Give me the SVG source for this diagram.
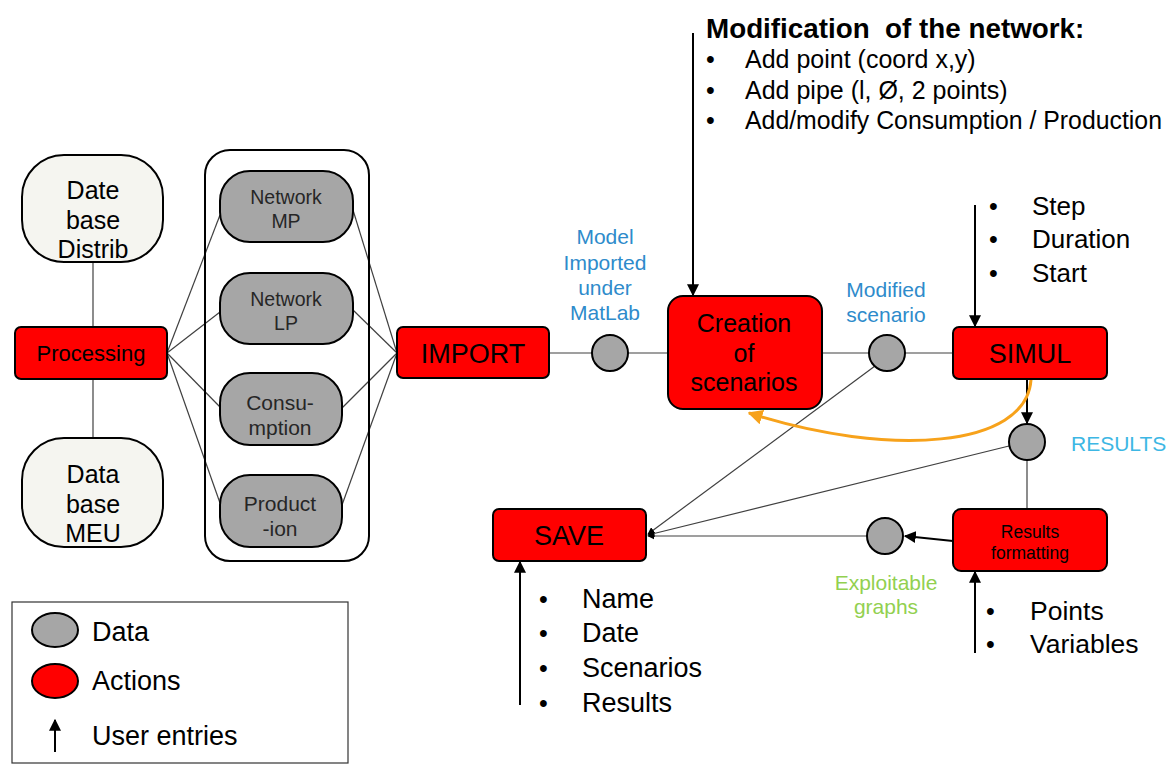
<svg xmlns="http://www.w3.org/2000/svg" width="1176" height="766" viewBox="0 0 1176 766">
  <style>
    text { font-family: "Liberation Sans", Arial, sans-serif; fill: #000; }
    .action { fill: #ff0000; stroke: #000; stroke-width: 2; }
    .data { fill: #a6a6a6; stroke: #000; stroke-width: 2; }
    .base { fill: #f5f5f0; stroke: #000; stroke-width: 2; }
    .link { stroke: #404040; stroke-width: 1.2; fill: none; }
    .entry { stroke: #000; stroke-width: 2; fill: none; }
    .c { text-anchor: middle; }
    .big { font-size: 27px; }
    .db { font-size: 25px; }
    .inner { fill: #262626; }
    .blue { fill: #2e8bcb; font-size: 21px; }
    .bul { font-size: 25px; }
  </style>
  <defs>
    <marker id="arr" viewBox="0 0 10 10" refX="9" refY="5" markerWidth="6" markerHeight="6" orient="auto">
      <path d="M0,0 L10,5 L0,10 z" fill="#000"/>
    </marker>
    <marker id="arrO" viewBox="0 0 10 10" refX="9" refY="5" markerWidth="5" markerHeight="5" orient="auto">
      <path d="M0,0 L10,5 L0,10 z" fill="#f7a21b"/>
    </marker>
  </defs>

  <!-- connectors -->
  <g id="connectors">
    <line class="link" x1="93" y1="262" x2="93" y2="327"/>
    <line class="link" x1="93" y1="379" x2="93" y2="438"/>
    <line class="link" x1="167" y1="353" x2="220" y2="215"/>
    <line class="link" x1="167" y1="353" x2="220" y2="312"/>
    <line class="link" x1="167" y1="353" x2="220" y2="407"/>
    <line class="link" x1="167" y1="353" x2="220" y2="503"/>
    <line class="link" x1="353" y1="210" x2="397" y2="353"/>
    <line class="link" x1="353" y1="310" x2="397" y2="353"/>
    <line class="link" x1="342" y1="408" x2="397" y2="353"/>
    <line class="link" x1="342" y1="505" x2="397" y2="353"/>
    <line class="link" x1="549" y1="353" x2="592" y2="353"/>
    <line class="link" x1="628" y1="353" x2="668" y2="353"/>
    <line class="link" x1="822" y1="353" x2="869" y2="353"/>
    <line class="link" x1="905" y1="353" x2="953" y2="353"/>
    <line class="link" x1="1027" y1="460" x2="1027" y2="509"/>
    <line class="link" x1="875" y1="366" x2="648" y2="534" marker-end="url(#arr)"/>
    <line class="link" x1="1009" y1="446" x2="648" y2="535" marker-end="url(#arr)"/>
    <line class="link" x1="867" y1="536" x2="648" y2="536" marker-end="url(#arr)"/>
    <line class="entry" x1="953" y1="541" x2="905" y2="536" marker-end="url(#arr)"/>
    <line class="entry" x1="1027" y1="379" x2="1027" y2="423" marker-end="url(#arr)"/>
    <line class="entry" x1="693" y1="33" x2="693" y2="295" marker-end="url(#arr)"/>
    <line class="entry" x1="975" y1="205" x2="975" y2="326" marker-end="url(#arr)"/>
    <line class="entry" x1="975" y1="653" x2="975" y2="572" marker-end="url(#arr)"/>
    <line class="entry" x1="520" y1="705" x2="520" y2="562" marker-end="url(#arr)"/>
    <path d="M1031,380 C1026,448 890,458 749,413" stroke="#f7a21b" stroke-width="3" fill="none" marker-end="url(#arrO)"/>
  </g>

  <!-- databases -->
  <g id="db-distrib">
    <rect class="base" x="22" y="155" width="141" height="107" rx="42"/>
    <text class="c db" x="93" y="199">Date</text>
    <text class="c db" x="93" y="229">base</text>
    <text class="c db" x="93" y="258">Distrib</text>
  </g>
  <g id="db-meu">
    <rect class="base" x="22" y="438" width="141" height="109" rx="42"/>
    <text class="c db" x="93" y="483">Data</text>
    <text class="c db" x="93" y="513">base</text>
    <text class="c db" x="93" y="542">MEU</text>
  </g>

  <g id="processing">
    <rect class="action" x="15" y="327" width="152" height="52" rx="6"/>
    <text class="c" x="91" y="361" font-size="22">Processing</text>
  </g>

  <!-- data group -->
  <g id="data-group">
    <rect x="205" y="150" width="164" height="411" rx="25" fill="none" stroke="#000" stroke-width="2"/>
  </g>
  <g id="network-mp">
    <rect class="data" x="220" y="171" width="133" height="71" rx="30"/>
    <text class="c inner" x="286" y="204" font-size="19.5">Network</text>
    <text class="c inner" x="286" y="228" font-size="19.5">MP</text>
  </g>
  <g id="network-lp">
    <rect class="data" x="220" y="273" width="133" height="71" rx="30"/>
    <text class="c inner" x="286" y="306" font-size="19.5">Network</text>
    <text class="c inner" x="286" y="330" font-size="19.5">LP</text>
  </g>
  <g id="consumption">
    <rect class="data" x="220" y="373" width="122" height="72" rx="30"/>
    <text class="c inner" x="280" y="410" font-size="21">Consu-</text>
    <text class="c inner" x="280" y="435" font-size="21">mption</text>
  </g>
  <g id="production">
    <rect class="data" x="220" y="475" width="122" height="72" rx="30"/>
    <text class="c inner" x="280" y="511" font-size="21">Product</text>
    <text class="c inner" x="280" y="536" font-size="21">-ion</text>
  </g>

  <g id="import">
    <rect class="action" x="397" y="327" width="152" height="51" rx="6"/>
    <text class="c big" x="473" y="363">IMPORT</text>
  </g>

  <g id="model-imported">
    <circle class="data" cx="610" cy="353" r="18"/>
    <text class="c blue" x="605" y="244">Model</text>
    <text class="c blue" x="605" y="270">Imported</text>
    <text class="c blue" x="605" y="295">under</text>
    <text class="c blue" x="605" y="320">MatLab</text>
  </g>

  <g id="creation">
    <rect class="action" x="668" y="296" width="154" height="113" rx="15"/>
    <text class="c" x="744" y="332" font-size="25">Creation</text>
    <text class="c" x="744" y="362" font-size="25">of</text>
    <text class="c" x="744" y="391" font-size="25">scenarios</text>
  </g>

  <g id="modification-text">
    <text x="706" y="38" font-size="27.8" font-weight="bold" xml:space="preserve">Modification  of the network:</text>
    <text x="706" y="68" class="bul">•</text>
    <text x="745" y="68" font-size="25">Add point (coord x,y)</text>
    <text x="706" y="99" class="bul">•</text>
    <text x="745" y="99" font-size="25">Add pipe (l, Ø, 2 points)</text>
    <text x="706" y="129" class="bul">•</text>
    <text x="745" y="129" font-size="25" textLength="417" lengthAdjust="spacingAndGlyphs">Add/modify Consumption / Production</text>
  </g>

  <g id="modified-scenario">
    <circle class="data" cx="887" cy="353" r="18"/>
    <text class="c blue" x="886" y="297">Modified</text>
    <text class="c blue" x="886" y="322">scenario</text>
  </g>

  <g id="simul">
    <rect class="action" x="953" y="327" width="154" height="52" rx="6"/>
    <text class="c big" x="1030" y="363">SIMUL</text>
  </g>

  <g id="simul-entries">
    <text x="989" y="215" class="bul">•</text>
    <text x="1032" y="215" font-size="26">Step</text>
    <text x="989" y="248" class="bul">•</text>
    <text x="1032" y="248" font-size="26">Duration</text>
    <text x="989" y="282" class="bul">•</text>
    <text x="1032" y="282" font-size="26">Start</text>
  </g>

  <g id="results">
    <circle class="data" cx="1027" cy="442" r="18"/>
    <text x="1071" y="451" font-size="21" style="fill:#3db7e4">RESULTS</text>
  </g>

  <g id="results-formatting">
    <rect class="action" x="953" y="509" width="154" height="62" rx="8"/>
    <text class="c" x="1030" y="538" font-size="17.5">Results</text>
    <text class="c" x="1030" y="559" font-size="17.5">formatting</text>
  </g>

  <g id="format-entries">
    <text x="986" y="620" class="bul">•</text>
    <text x="1030" y="620" font-size="26.5">Points</text>
    <text x="986" y="653" class="bul">•</text>
    <text x="1030" y="653" font-size="26.5">Variables</text>
  </g>

  <g id="exploitable-graphs">
    <circle class="data" cx="885" cy="536" r="18"/>
    <text class="c" x="886" y="590" font-size="21" style="fill:#92d050">Exploitable</text>
    <text class="c" x="886" y="614" font-size="21" style="fill:#92d050">graphs</text>
  </g>

  <g id="save">
    <rect class="action" x="493" y="509" width="153" height="52" rx="6"/>
    <text class="c big" x="569" y="545">SAVE</text>
  </g>

  <g id="save-entries">
    <text x="539" y="608" class="bul">•</text>
    <text x="582" y="608" font-size="27">Name</text>
    <text x="539" y="642" class="bul">•</text>
    <text x="582" y="642" font-size="27">Date</text>
    <text x="539" y="677" class="bul">•</text>
    <text x="582" y="677" font-size="27">Scenarios</text>
    <text x="539" y="712" class="bul">•</text>
    <text x="582" y="712" font-size="27">Results</text>
  </g>

  <!-- legend -->
  <g id="legend">
    <rect x="12" y="602" width="336" height="161" fill="#fff" stroke="#333" stroke-width="1.2"/>
    <ellipse class="data" cx="55" cy="630" rx="23" ry="17"/>
    <text x="92" y="641" font-size="27">Data</text>
    <ellipse class="action" cx="55" cy="681" rx="23" ry="17"/>
    <text x="92" y="690" font-size="27">Actions</text>
    <line class="entry" x1="55" y1="752" x2="55" y2="720" marker-end="url(#arr)"/>
    <text x="92" y="745" font-size="27">User entries</text>
  </g>
</svg>
